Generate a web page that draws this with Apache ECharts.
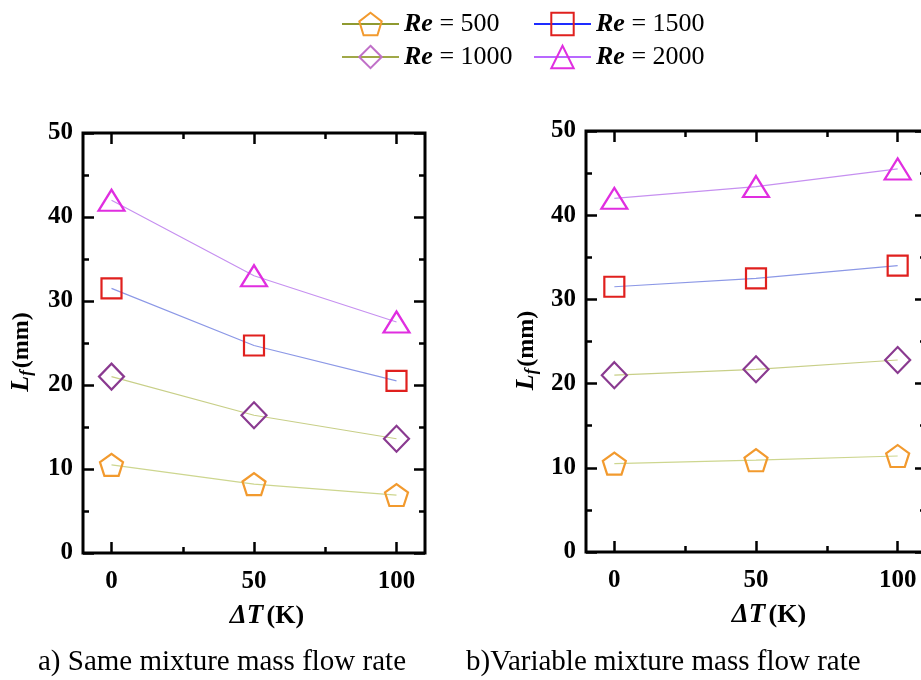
<!DOCTYPE html>
<html>
<head>
<meta charset="utf-8">
<script src="https://cdn.jsdelivr.net/npm/echarts@6/dist/echarts.min.js"></script>
<style>html,body{margin:0;padding:0;background:#fff;overflow:hidden}#c{width:934px;height:680px}</style>
</head>
<body>
<div id="c"></div>
<script>
// ---- data ----
const deltaT = [0, 50, 100];
const reNames = ['Re = 500', 'Re = 1000', 'Re = 1500', 'Re = 2000'];
// (a) Same mixture mass flow rate
const sameRe500  = [10.5, 8.2, 6.9];
const sameRe1000 = [21.0, 16.4, 13.6];
const sameRe1500 = [31.5, 24.7, 20.5];
const sameRe2000 = [42.0, 33.0, 27.5];
// (b) Variable mixture mass flow rate
const varRe500  = [10.5, 10.9, 11.4];
const varRe1000 = [21.0, 21.7, 22.8];
const varRe1500 = [31.5, 32.5, 34.0];
const varRe2000 = [42.0, 43.4, 45.5];
const xMajorTicks = [0, 50, 100];
const xMinorTicks = [25, 75];

const FONT = '"Liberation Serif","Times New Roman",serif';
const pentagon = 'path://M0,-1 L0.951,-0.309 L0.588,0.809 L-0.588,0.809 L-0.951,-0.309 Z';
const styles = {
  'Re = 500':  {symbol: pentagon,   size: [23, 22], mk: '#f29a2e', line: '#cdd68f', leg: '#8f9a30'},
  'Re = 1000': {symbol: 'diamond',  size: [25, 26], mk: '#8a3a90', line: '#c8cf88', leg: '#a0a848'},
  'Re = 1500': {symbol: 'rect',     size: [20, 20], mk: '#e0201e', line: '#8c98e6', leg: '#1e2cff'},
  'Re = 2000': {symbol: 'triangle', size: [26, 21], mk: '#e02ee0', line: '#c690f0', leg: '#b868ff'}
};
const legendMk = {'Re = 1000': '#c070c8'};

const grids = [
  {left: 83, top: 133, width: 342, height: 420},
  {left: 586, top: 131, width: 340, height: 421}
];

const xAxes = [], yAxes = [], series = [];
const tickStyle = {color: '#000', width: 2.5};
const noLine = {show: false, onZero: false};
grids.forEach((g, gi) => {
  const base = {gridIndex: gi, type: 'value', min: -10, max: 110, splitLine: {show: false}, axisLine: noLine};
  // bottom major
  xAxes.push(Object.assign({}, base, {
    position: 'bottom',
    axisTick: {show: true, inside: true, length: 11, customValues: xMajorTicks, lineStyle: tickStyle},
    axisLabel: {customValues: xMajorTicks, margin: 16, color: '#000', fontFamily: FONT, fontWeight: 'bold', fontSize: 25},
    name: '{a|ΔT} {b|(K)}', nameLocation: 'middle', nameGap: 50,
    nameTextStyle: {padding: [0, 0, 0, 26], rich: {
      a: {fontFamily: FONT, fontWeight: 'bold', fontStyle: 'italic', fontSize: 27, color: '#000'},
      b: {fontFamily: FONT, fontWeight: 'bold', fontSize: 26, color: '#000'}}}
  }));
  // bottom minor
  xAxes.push(Object.assign({}, base, {
    position: 'bottom', axisLabel: {show: false},
    axisTick: {show: true, inside: true, length: 6, customValues: xMinorTicks, lineStyle: tickStyle}
  }));
  // top major
  xAxes.push(Object.assign({}, base, {
    position: 'top', axisLabel: {show: false},
    axisTick: {show: true, inside: true, length: 11, customValues: xMajorTicks, lineStyle: tickStyle}
  }));
  // top minor
  xAxes.push(Object.assign({}, base, {
    position: 'top', axisLabel: {show: false},
    axisTick: {show: true, inside: true, length: 6, customValues: xMinorTicks, lineStyle: tickStyle}
  }));
  const ybase = {gridIndex: gi, type: 'value', min: 0, max: 50, interval: 10, splitLine: {show: false},
    axisLine: noLine,
    axisTick: {show: true, inside: true, length: 11, lineStyle: tickStyle},
    minorTick: {show: true, splitNumber: 2, length: 6, lineStyle: tickStyle}};
  yAxes.push(Object.assign({}, ybase, {
    position: 'left',
    axisLabel: {margin: 10, color: '#000', fontFamily: FONT, fontWeight: 'bold', fontSize: 25},
    name: '{a|L}{s|f}{b|(mm)}', nameLocation: 'middle', nameGap: gi === 0 ? 48 : 46, nameRotate: 90,
    nameTextStyle: {padding: [0, 18, 0, 0], rich: {
      a: {fontFamily: FONT, fontWeight: 'bold', fontStyle: 'italic', fontSize: 26, color: '#000'},
      s: {fontFamily: FONT, fontWeight: 'bold', fontStyle: 'italic', fontSize: 17, color: '#000', verticalAlign: 'bottom', padding: [10, 2, 0, 0]},
      b: {fontFamily: FONT, fontWeight: 'bold', fontSize: 24, color: '#000'}}}
  }));
  yAxes.push(Object.assign({}, ybase, {position: 'right', axisLabel: {show: false}}));
});

const dataSets = [
  {'Re = 500': sameRe500, 'Re = 1000': sameRe1000, 'Re = 1500': sameRe1500, 'Re = 2000': sameRe2000},
  {'Re = 500': varRe500, 'Re = 1000': varRe1000, 'Re = 1500': varRe1500, 'Re = 2000': varRe2000}
];
dataSets.forEach((ds, gi) => {
  reNames.forEach(name => {
    const s = styles[name];
    series.push({
      name, type: 'line', xAxisIndex: gi * 4, yAxisIndex: gi * 2,
      data: deltaT.map((x, i) => [x, ds[name][i]]),
      symbol: s.symbol, symbolSize: s.size, showSymbol: true, animation: false,
      lineStyle: {color: s.line, width: 1.2},
      itemStyle: {color: 'rgba(255,255,255,0)', borderColor: s.mk, borderWidth: 2.2}
    });
  });
});

const legFmt = n => '{r|Re}{e| = }{n|' + n.split('= ')[1] + '}';
const legText = {
  rich: {
    r: {fontFamily: FONT, fontWeight: 'bold', fontStyle: 'italic', fontSize: 26, color: '#000'},
    e: {fontFamily: FONT, fontSize: 26, color: '#000'},
    n: {fontFamily: FONT, fontSize: 26, color: '#000'}
  }
};
function legItem(n) {
  return {name: n, lineStyle: {color: styles[n].leg, width: 2},
    itemStyle: {color: 'rgba(255,255,255,0)', borderColor: legendMk[n] || styles[n].mk, borderWidth: 2}};
}
const legCommon = {top: 6, orient: 'vertical', itemWidth: 57, itemHeight: 28, itemGap: 7,
  selectedMode: false, textStyle: legText, formatter: legFmt};
const legends = [
  Object.assign({left: 336, data: [legItem('Re = 500'), legItem('Re = 1000')]}, legCommon),
  Object.assign({left: 528, data: [legItem('Re = 1500'), legItem('Re = 2000')]}, legCommon)
];

const chart = echarts.init(document.getElementById('c'));
chart.setOption({
  animation: false,
  backgroundColor: '#fff',
  title: [
    {text: 'a) Same mixture mass flow rate', left: 33, top: 643, textStyle: {fontFamily: FONT, fontWeight: 'normal', fontSize: 29, color: '#000'}},
    {text: 'b)Variable mixture mass flow rate', left: 461, top: 643, textStyle: {fontFamily: FONT, fontWeight: 'normal', fontSize: 29, color: '#000'}}
  ],
  legend: legends,
  grid: grids.map(g => Object.assign({show: true, borderColor: '#000', borderWidth: 3, backgroundColor: 'transparent'}, g)),
  xAxis: xAxes,
  yAxis: yAxes,
  series
});
</script>
</body>
</html>
